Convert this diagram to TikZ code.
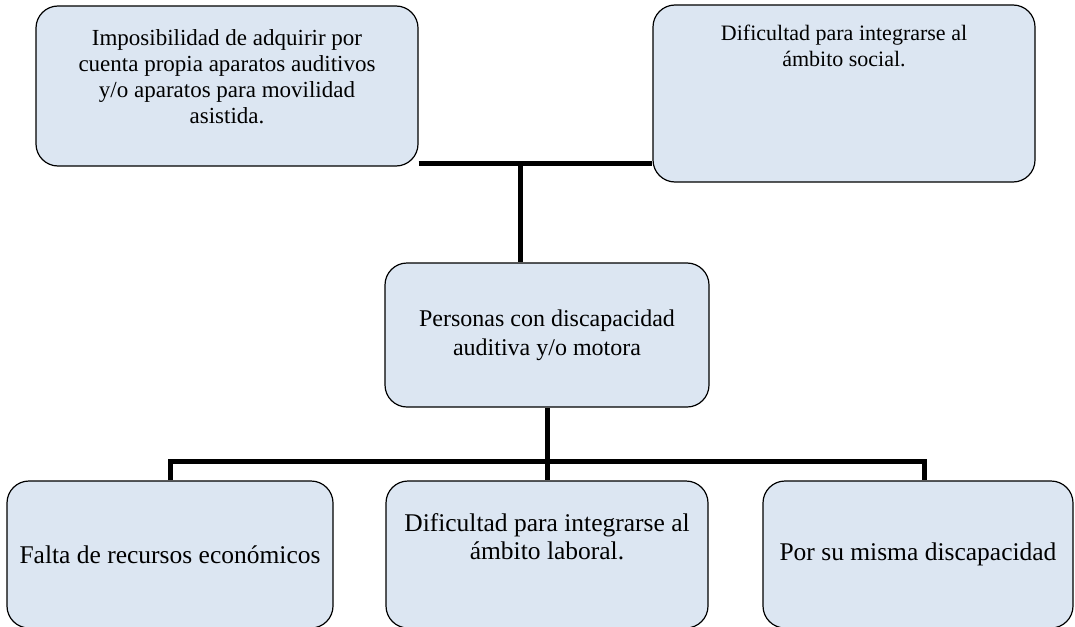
\documentclass[tikz,border=0pt]{standalone}
\usepackage{fontspec}
\setmainfont{Liberation Serif}
\usetikzlibrary{positioning,backgrounds}

\definecolor{cajafondo}{HTML}{DCE6F2}
\tikzset{
  caja/.style={draw=black, line width=1.2pt, fill=cajafondo, rounded corners=22pt, inner sep=0pt},
  texto/.style={align=center, inner sep=0pt, font=\fontsize{23}{26}\selectfont},
  textobajo/.style={texto, font=\fontsize{25.5}{28}\selectfont},
  enlace/.style={line width=5pt, black},
}

\begin{document}
\begin{tikzpicture}[x=1pt, y=-1pt]
        \useasboundingbox (0,0) rectangle (1075,626);
        \clip (0,0) rectangle (1075,626);
        % Cajas del arbol
        \node[caja, minimum width=382pt, minimum height=160pt] (imposib) at (227,86) {};
        \node[texto] (imposibtxt) at (227,77) {Imposibilidad de adquirir por\\cuenta propia aparatos auditivos\\y/o aparatos para movilidad\\asistida.};

        \node[caja, minimum width=382pt, minimum height=177pt] (social) at (844,93.5) {};
        \node[texto, font=\fontsize{22}{26}\selectfont, below=20pt of social.north] (socialtxt) {Dificultad para integrarse al\\ámbito social.};

        \node[caja, texto, font=\fontsize{24}{29}\selectfont, minimum width=324pt, minimum height=144pt] (personas) at (547,335) {Personas con discapacidad\\auditiva y/o motora};

        \node[caja, textobajo, minimum width=326pt, minimum height=147pt] (recursos) at (170,554.5) {Falta de recursos económicos};

        \node[caja, minimum width=322pt, minimum height=147pt] (laboral) at (547,554.5) {};
        \node[textobajo, below=33pt of laboral.north] (laboraltxt) {Dificultad para integrarse al\\ámbito laboral.};

        \node[caja, textobajo, minimum width=310pt, minimum height=147pt] (misma) at (918,554.5) {Por su misma discapacidad};

        \begin{pgfonlayer}{background}
        \coordinate (nudo) at (520,163);
        \coordinate (reparto) at (personas.south |- 0,461);
        \draw[enlace] (imposib.east |- nudo) -- (social.west |- nudo);
        \draw[enlace] (nudo) -- (personas.north -| nudo);
        \draw[enlace] (personas.south) -- (reparto);
        \draw[enlace] (recursos.north) |- (reparto) -| ([xshift=6pt]misma.north);
        \draw[enlace] (reparto) -- (laboral.north);
        \end{pgfonlayer}
\end{tikzpicture}
\end{document}
